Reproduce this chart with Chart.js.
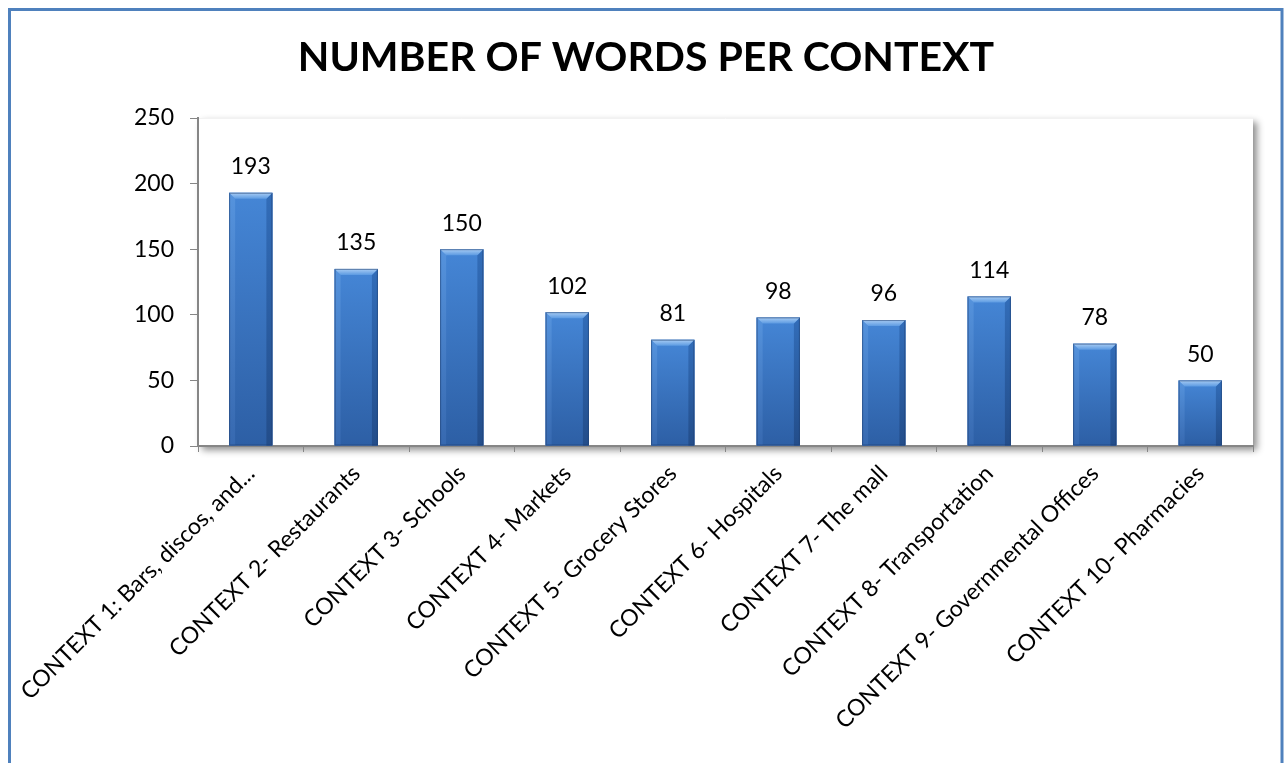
<!DOCTYPE html>
<html>
<head>
<meta charset="utf-8">
<script src="https://cdn.jsdelivr.net/npm/chart.js@4/dist/chart.umd.min.js"></script>
<style>
  html, body { margin: 0; padding: 0; background: #fff; }
  #wrap { width: 1287px; height: 763px; }
</style>
</head>
<body>
<div id="wrap"><canvas id="words-chart" width="1287" height="763"></canvas></div>
<script>
// Chart data
const contexts = [
    'CONTEXT 1: Bars, discos, and...',
    'CONTEXT 2- Restaurants',
    'CONTEXT 3- Schools',
    'CONTEXT 4- Markets',
    'CONTEXT 5- Grocery Stores',
    'CONTEXT 6- Hospitals',
    'CONTEXT 7- The mall',
    'CONTEXT 8- Transportation',
    'CONTEXT 9- Governmental Offices',
    'CONTEXT 10- Pharmacies'
];
const wordCounts = [193, 135, 150, 102, 81, 98, 96, 114, 78, 50];
const yTicks = [0, 50, 100, 150, 200, 250];
const chartTitle = 'NUMBER OF WORDS PER CONTEXT';

const fontFamily = 'Lato, "Open Sans", sans-serif';
const axisGrey = '#868686';

// Outer frame, title and plot area shadow
const framePlugin = {
    id: 'frame',
    beforeDraw(chart) {
        const ctx = chart.ctx;
        const a = chart.chartArea;
        ctx.save();
        ctx.fillStyle = '#fff';
        ctx.fillRect(0, 0, chart.width, chart.height);
        ctx.strokeStyle = '#4f81bd';
        ctx.lineWidth = 3;
        ctx.strokeRect(9.5, 9.5, chart.width - 5 - 9.5, chart.height + 20);

        // title, centred on the frame like the original
        ctx.fillStyle = '#000';
        ctx.font = 'bold 41px ' + fontFamily;
        ctx.textAlign = 'center';
        ctx.textBaseline = 'middle';
        ctx.fillText(chartTitle, 646, 58);

        // plot area with soft shadow
        ctx.shadowColor = 'rgba(0,0,0,0.45)';
        ctx.shadowBlur = 7;
        ctx.shadowOffsetX = 4;
        ctx.shadowOffsetY = 4;
        ctx.fillStyle = '#fff';
        ctx.fillRect(a.left, a.top, a.right - a.left, a.bottom - a.top);
        ctx.shadowColor = 'transparent';
        ctx.strokeStyle = '#f2f2f2';
        ctx.lineWidth = 1;
        ctx.beginPath();
        ctx.moveTo(a.left, a.top + 0.5);
        ctx.lineTo(a.right, a.top + 0.5);
        ctx.stroke();
        ctx.restore();
    }
};

// Bevelled bar look + value labels, using the bar elements from the library
const bevelPlugin = {
    id: 'bevel',
    afterDatasetsDraw(chart) {
        const ctx = chart.ctx;
        const meta = chart.getDatasetMeta(0);
        ctx.save();
        meta.data.forEach((bar, i) => {
            const p = bar.getProps(['x', 'y', 'base', 'width'], true);
            const l = p.x - p.width / 2, r = p.x + p.width / 2;
            const t = p.y, b = p.base, bv = 6;

            let g = ctx.createLinearGradient(0, t, 0, b);
            g.addColorStop(0, '#4586d6');
            g.addColorStop(1, '#2d5fa5');
            ctx.fillStyle = g;
            ctx.fillRect(l, t, p.width, b - t);

            // side bevels
            let gl = ctx.createLinearGradient(0, t, 0, b);
            gl.addColorStop(0, '#5593dd');
            gl.addColorStop(1, '#3769b0');
            ctx.fillStyle = gl;
            ctx.beginPath();
            ctx.moveTo(l, t); ctx.lineTo(l + bv, t + bv); ctx.lineTo(l + bv, b); ctx.lineTo(l, b);
            ctx.closePath(); ctx.fill();

            let gr = ctx.createLinearGradient(0, t, 0, b);
            gr.addColorStop(0, '#326db9');
            gr.addColorStop(1, '#234d8a');
            ctx.fillStyle = gr;
            ctx.beginPath();
            ctx.moveTo(r, t); ctx.lineTo(r - bv, t + bv); ctx.lineTo(r - bv, b); ctx.lineTo(r, b);
            ctx.closePath(); ctx.fill();

            // top bevel
            let gt = ctx.createLinearGradient(0, t, 0, t + bv);
            gt.addColorStop(0, '#a9cdf4');
            gt.addColorStop(1, '#5d9be2');
            ctx.fillStyle = gt;
            ctx.beginPath();
            ctx.moveTo(l, t); ctx.lineTo(r, t); ctx.lineTo(r - bv, t + bv); ctx.lineTo(l + bv, t + bv);
            ctx.closePath(); ctx.fill();

            ctx.strokeStyle = 'rgba(30,60,110,0.55)';
            ctx.lineWidth = 1;
            ctx.strokeRect(l + 0.5, t + 0.5, p.width - 1, b - t - 1);

            // value label
            ctx.fillStyle = '#000';
            ctx.font = '23px ' + fontFamily;
            ctx.textAlign = 'center';
            ctx.textBaseline = 'middle';
            ctx.fillText(String(wordCounts[i]), p.x, t - 26);
        });
        ctx.restore();
    }
};

const ctx = document.getElementById('words-chart').getContext('2d');

let wordsChart = new Chart(ctx, {
    type: 'bar',
    data: {
        labels: contexts,
        datasets: [{
            data: wordCounts,
            backgroundColor: '#3e7acb',
            borderWidth: 0,
            barPercentage: 0.41,
            categoryPercentage: 1
        }]
    },
    options: {
        responsive: false,
        animation: false,
        layout: {
            padding: { left: 0, right: 34, top: 118, bottom: 0 }
        },
        scales: {
            x: {
                grid: {
                    display: true,
                    drawOnChartArea: false,
                    drawTicks: true,
                    tickLength: 6,
                    color: axisGrey,
                    offset: true
                },
                border: { color: axisGrey, width: 2 },
                ticks: {
                    autoSkip: false,
                    minRotation: 45,
                    maxRotation: 45,
                    color: '#000',
                    padding: 8,
                    font: { family: fontFamily, size: 23 }
                },
                afterFit(scale) { scale.height = 317; }
            },
            y: {
                min: 0,
                max: 250,
                afterBuildTicks(scale) {
                    scale.ticks = yTicks.map(v => ({ value: v }));
                },
                grid: {
                    display: true,
                    drawOnChartArea: false,
                    drawTicks: true,
                    tickLength: 8,
                    color: axisGrey
                },
                border: { color: axisGrey, width: 2 },
                ticks: {
                    color: '#000',
                    padding: 16,
                    font: { family: fontFamily, size: 23 }
                },
                afterFit(scale) { scale.width = 198; }
            }
        },
        plugins: {
            legend: { display: false },
            tooltip: { enabled: false },
            title: { display: false }
        }
    },
    plugins: [framePlugin, bevelPlugin]
});
</script>
</body>
</html>
